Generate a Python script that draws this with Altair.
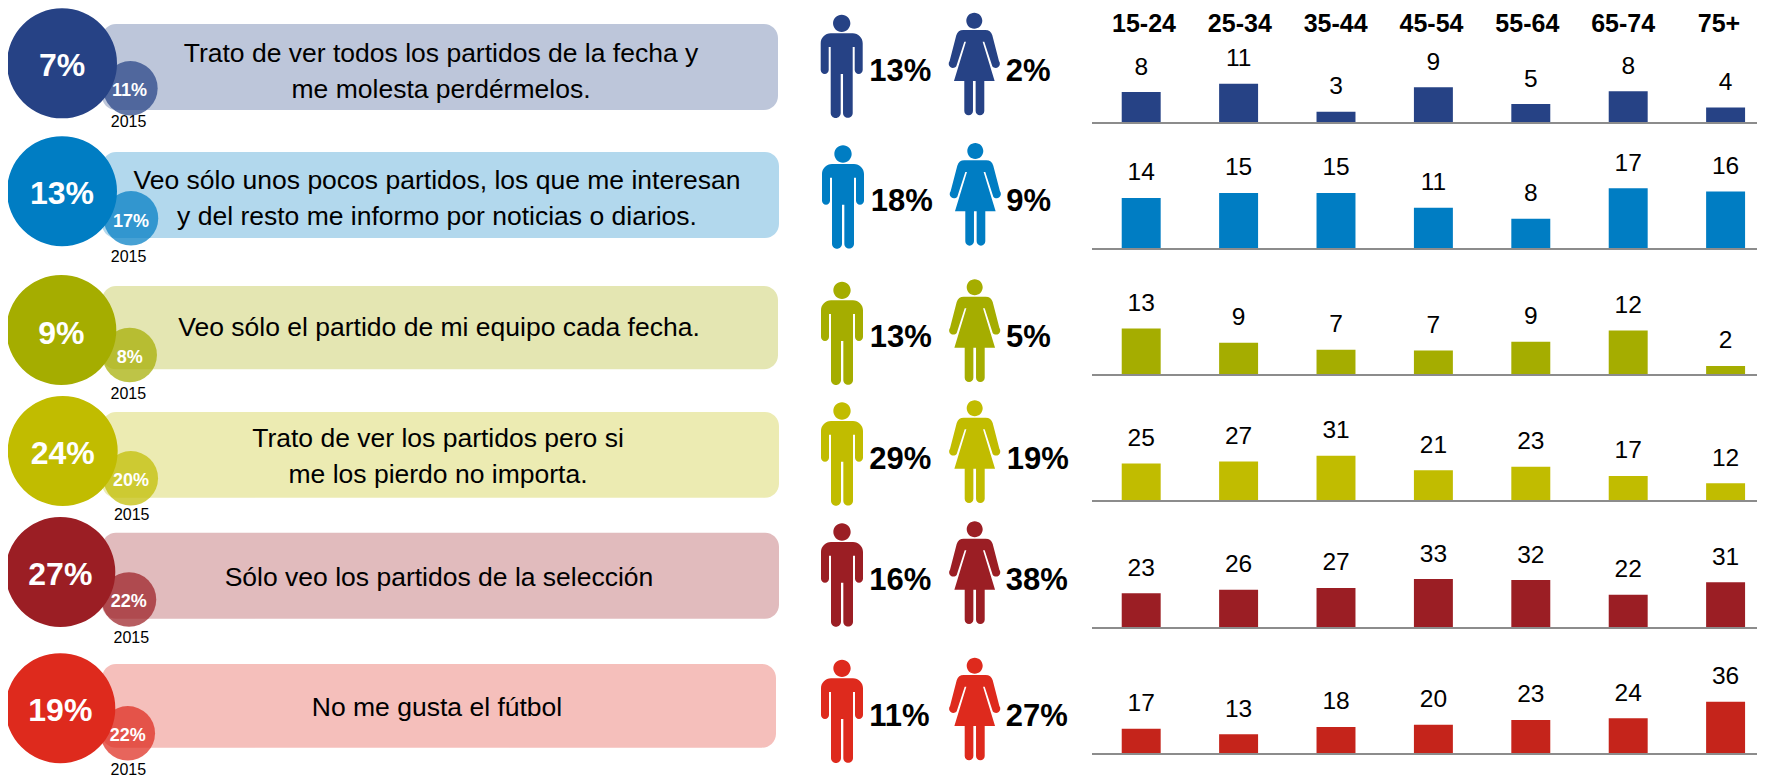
import altair as alt
import pandas as pd

# ---------- data ----------
ROWS = [0, 1, 2, 3, 4, 5]
ANSWERS = [
    "Trato de ver todos los partidos de la fecha y\nme molesta perdérmelos.",
    "Veo sólo unos pocos partidos, los que me interesan\ny del resto me informo por noticias o diarios.",
    "Veo sólo el partido de mi equipo cada fecha.",
    "Trato de ver los partidos pero si\nme los pierdo no importa.",
    "Sólo veo los partidos de la selección",
    "No me gusta el fútbol",
]
TOTAL = [7, 13, 9, 24, 27, 19]
Y2015 = [11, 17, 8, 20, 22, 22]
MEN = [13, 18, 13, 29, 16, 11]
WOMEN = [2, 9, 5, 19, 38, 27]
AGES = ["15-24", "25-34", "35-44", "45-54", "55-64", "65-74", "75+"]
LABELS = [
    [8, 11, 3, 9, 5, 8, 4],
    [14, 15, 15, 11, 8, 17, 16],
    [13, 9, 7, 7, 9, 12, 2],
    [25, 27, 31, 21, 23, 17, 12],
    [23, 26, 27, 33, 32, 22, 31],
    [17, 13, 18, 20, 23, 24, 36],
]
BARS = [
    [8.2, 10.5, 2.8, 9.5, 4.9, 8.4, 4.0],
    [13.7, 15.1, 15.1, 11.0, 8.0, 16.4, 15.5],
    [13.0, 8.9, 6.9, 6.7, 9.2, 12.4, 2.3],
    [25.6, 27.0, 31.0, 20.8, 23.3, 16.8, 11.7],
    [23.2, 25.7, 26.9, 33.1, 32.4, 22.3, 30.8],
    [17.0, 13.1, 18.2, 19.8, 23.1, 24.3, 35.9],
]

# ---------- styles and layout (page pixels) ----------
COLORS = ["#264285", "#007DC3", "#A5AD00", "#C1BC00", "#9B1E24", "#DE2A1D"]
BAR_COLORS = ["#264285", "#007DC3", "#A5AD00", "#C1BC00", "#9B1E24", "#C5241B"]
FONT = "Liberation Sans"
M = 8  # page margin: page pixel = chart pixel + 8


def shift(values):
    return [v - M for v in values]


PILL_L = [102, 102, 102, 102, 102, 102]
PILL_R = [778, 779, 778, 779, 779, 776]
PILL_T = [24, 152, 286, 412, 532.7, 664]
PILL_B = [110, 238, 369.3, 497.7, 618.7, 747.7]
BIG_X = [62, 62, 61.3, 62.7, 60.3, 60.3]
BIG_Y = [63.3, 191.2, 330, 451, 572, 708.2]
BIG_TY = [65.5, 193.5, 334, 454, 575, 711]
SMALL_X = [130.4, 131, 129.7, 130.8, 129, 127.8]
SMALL_Y = [88.3, 218.3, 355, 478.3, 599.5, 733.3]
SMALL_TX = [129.6, 131, 129.7, 131, 128.7, 127.7]
SMALL_TY = [91.3, 222, 358, 481, 601.7, 736]
Y15_X = [128.6, 128.6, 128.3, 131.7, 131.3, 128.3]
Y15_Y = [121.7, 257.3, 394, 515, 637.7, 770]
TXT_X = [441, 437, 439, 438, 439, 437]
TXT_Y = [53.5, 181, 328.4, 439, 578.3, 708]  # first-line centres
MAN_X = [841.7, 843, 842, 842, 842, 842]
MAN_Y = [23.3, 154, 290.3, 411, 532, 668.3]
WOMAN_X = [974.3, 975.3, 974.7, 974.7, 974.7, 974.7]
WOMAN_Y = [20.7, 151, 287.3, 408.3, 529.3, 665.7]
MAN_TX = [869.3, 870.7, 869.7, 869.3, 869.3, 869.3]
WOMAN_TX = [1005.7, 1006.3, 1006, 1006.7, 1005.7, 1005.7]
PCT_Y = [72.3, 202.3, 338.3, 459.6, 581.3, 717.3]
BASE = [122, 248, 374, 500, 627, 753]
PX_PER_UNIT = [3.65, 3.65, 3.5, 1.43, 1.45, 1.43]

MAN_PATH = (
    "M-26,0 A26,26 0 1 1 26,0 A26,26 0 1 1 -26,0 Z "
    "M-33,30 L33,30 A30,30 0 0 1 63,60 L63,140 A12,12 0 0 1 39,140 L39,71 L33,71 "
    "L33,269 A14.5,14.5 0 0 1 4,269 L4,152 L-3,152 L-3,269 A15,15 0 0 1 -33,269 "
    "L-33,71 L-39,71 L-39,140 A12,12 0 0 1 -63,140 L-63,60 A30,30 0 0 1 -33,30 Z"
)
WOMAN_PATH = (
    "M-24,0 A24,24 0 1 1 24,0 A24,24 0 1 1 -24,0 Z "
    "M-33,28 L33,28 Q49,28 54,44 L74,121 A10.5,10.5 0 0 1 54,137 L30,63 L25,63 L61,181 "
    "L30,181 L30,271 A13,13 0 0 1 4,271 L4,181 L-4,181 L-4,271 A13,13 0 0 1 -30,271 "
    "L-30,181 L-61,181 L-25,63 L-30,63 L-54,137 A10.5,10.5 0 0 1 -74,121 L-54,44 "
    "Q-49,28 -33,28 Z"
)

rows = pd.DataFrame(
    {
        "i": ROWS,
        "i2": [r + 6 for r in ROWS],
        "answer": ANSWERS,
        "total": [f"{v}%" for v in TOTAL],
        "y2015": [f"{v}%" for v in Y2015],
        "men": [f"{v}%" for v in MEN],
        "women": [f"{v}%" for v in WOMEN],
        "year": ["2015"] * 6,
    }
)


def pos_x(values, field="i"):
    return alt.X(f"{field}:Q", axis=None, scale=alt.Scale(domain=ROWS, range=shift(values), zero=False, nice=False))


def pos_y(values, field="i"):
    return alt.Y(f"{field}:Q", axis=None, scale=alt.Scale(domain=ROWS, range=shift(values), zero=False, nice=False))


row_color = alt.Color("i:N", legend=None, scale=alt.Scale(domain=ROWS, range=COLORS))
base = alt.Chart(rows)

IDX12 = list(range(12))
pill_y = alt.Scale(domain=IDX12, range=shift(PILL_T + PILL_B), zero=False, nice=False)
pill_x = alt.Scale(domain=IDX12, range=shift(PILL_L + PILL_R), zero=False, nice=False)
pills = base.mark_rect(cornerRadius=14, opacity=0.3).encode(
    x=alt.X("i:Q", axis=None, scale=pill_x),
    x2="i2:Q",
    y=alt.Y("i:Q", axis=None, scale=pill_y),
    y2="i2:Q",
    color=row_color,
)
small_c = base.mark_circle(size=2970, opacity=0.72).encode(x=pos_x(SMALL_X), y=pos_y(SMALL_Y), color=row_color)
big_c = base.mark_circle(size=12100, opacity=1).encode(x=pos_x(BIG_X), y=pos_y(BIG_Y), color=row_color)
big_t = base.mark_text(font=FONT, fontSize=32, fontWeight="bold", color="white", baseline="middle").encode(
    x=pos_x(BIG_X), y=pos_y(BIG_TY), text="total:N"
)
small_t = base.mark_text(font=FONT, fontSize=18, fontWeight="bold", color="white", baseline="middle").encode(
    x=pos_x(SMALL_TX), y=pos_y(SMALL_TY), text="y2015:N"
)
year_t = base.mark_text(font=FONT, fontSize=16, color="black", baseline="middle").encode(
    x=pos_x(Y15_X), y=pos_y(Y15_Y), text="year:N"
)
body_t = base.mark_text(font=FONT, fontSize=26.5, color="black", baseline="middle", lineBreak="\n", lineHeight=36).encode(
    x=pos_x(TXT_X), y=pos_y(TXT_Y), text="answer:N"
)
man = base.mark_point(shape=MAN_PATH, filled=True, opacity=1, size=4 / 9, strokeWidth=0).encode(
    x=pos_x(MAN_X), y=pos_y(MAN_Y), color=row_color
)
woman = base.mark_point(shape=WOMAN_PATH, filled=True, opacity=1, size=4 / 9, strokeWidth=0).encode(
    x=pos_x(WOMAN_X), y=pos_y(WOMAN_Y), color=row_color
)
man_t = base.mark_text(font=FONT, fontSize=31, fontWeight="bold", color="black", align="left", baseline="middle").encode(
    x=pos_x(MAN_TX), y=pos_y(PCT_Y), text="men:N"
)
woman_t = base.mark_text(font=FONT, fontSize=31, fontWeight="bold", color="black", align="left", baseline="middle").encode(
    x=pos_x(WOMAN_TX), y=pos_y(PCT_Y), text="women:N"
)

layers = [pills, small_c, big_c, big_t, small_t, year_t, body_t, man, woman, man_t, woman_t]

# age header
header = (
    alt.Chart(pd.DataFrame({"age": AGES}))
    .mark_text(font=FONT, fontSize=25, fontWeight="bold", color="black", baseline="middle")
    .encode(
        x=alt.X("age:N", axis=None, scale=alt.Scale(type="point", domain=AGES, range=[1144 - M, 1719 - M], padding=0)),
        y=alt.value(23.5 - M),
        text="age:N",
    )
)
layers.append(header)

# bars, one small chart per answer sharing the age scale
age_x = alt.X(
    "age:N",
    axis=None,
    scale=alt.Scale(domain=AGES, range=[1092.5 - M, 1774.3 - M], paddingInner=0.6, paddingOuter=0.3),
)
for r in ROWS:
    d = pd.DataFrame({"age": AGES, "v": BARS[r], "label": LABELS[r]})
    b0 = BASE[r] - M
    yscale = alt.Scale(domain=[0, 100], range=[b0, b0 - 100 * PX_PER_UNIT[r]], zero=False, nice=False)
    val_y = alt.Y("v:Q", axis=None, scale=yscale)
    bars = alt.Chart(d).mark_bar(color=BAR_COLORS[r], opacity=1).encode(x=age_x, y=val_y)
    text = (
        alt.Chart(d)
        .mark_text(font=FONT, fontSize=24.5, color="black", baseline="middle", dy=-24.5)
        .encode(x=age_x, y=val_y, text="label:Q")
    )
    rule = (
        alt.Chart(d.head(1))
        .mark_rule(color="#8C8C8C", strokeWidth=2, yOffset=1)
        .encode(y=alt.Y(datum=0, axis=None, scale=yscale), x=alt.value(1092 - M), x2=alt.value(1765 - M))
    )
    layers += [bars, rule, text]

chart = (
    alt.layer(*layers)
    .resolve_scale(x="independent", y="independent", color="independent")
    .properties(width=1749, height=771, padding=0, autosize=alt.AutoSizeParams(type="none"), background="white")
    .configure_view(stroke=None)
)

chart.save("out.html", embed_options={"renderer": "svg", "actions": False})
